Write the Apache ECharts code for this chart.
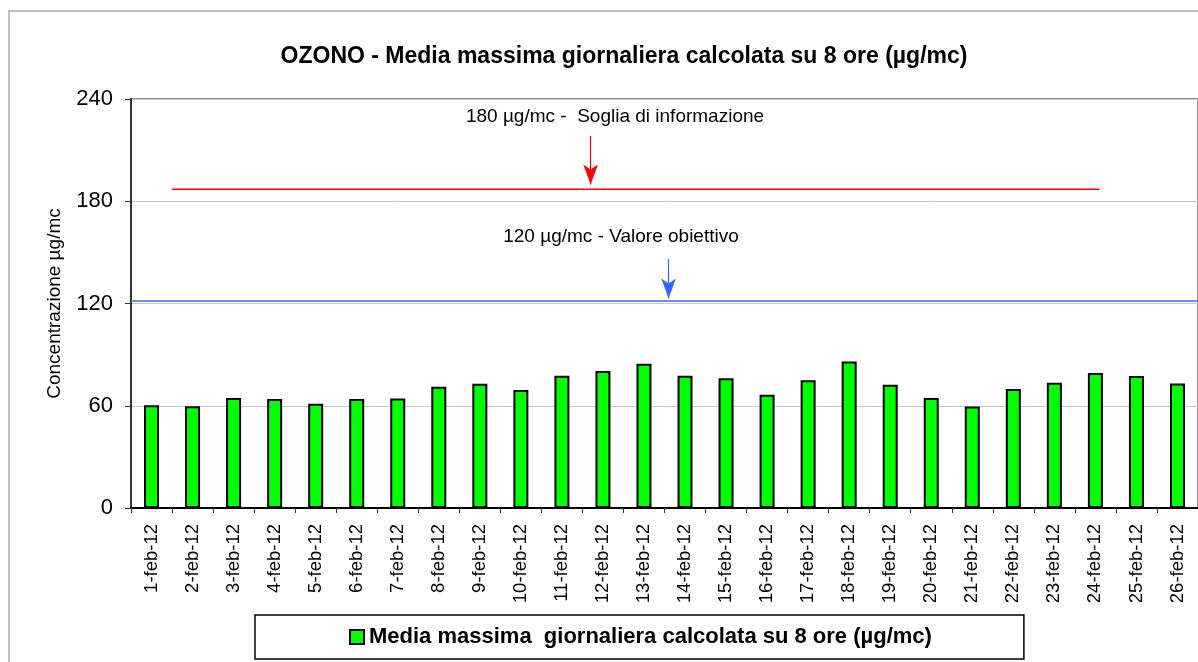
<!DOCTYPE html>
<html>
<head>
<meta charset="utf-8">
<script src="https://cdn.jsdelivr.net/npm/echarts@6/dist/echarts.min.js"></script>
<style>
  html, body { margin: 0; padding: 0; background: #fff; }
  #chart { width: 1198px; height: 662px; }
</style>
</head>
<body>
<div id="chart"></div>
<script>
  // giorni di febbraio 2012
  var days = ['1-feb-12','2-feb-12','3-feb-12','4-feb-12','5-feb-12','6-feb-12','7-feb-12','8-feb-12','9-feb-12',
    '10-feb-12','11-feb-12','12-feb-12','13-feb-12','14-feb-12','15-feb-12','16-feb-12','17-feb-12','18-feb-12',
    '19-feb-12','20-feb-12','21-feb-12','22-feb-12','23-feb-12','24-feb-12','25-feb-12','26-feb-12'];
  // media massima giornaliera su 8 ore (µg/mc)
  var ozono = [60.3, 59.7, 64.6, 64.0, 61.2, 64.0, 64.3, 71.2, 72.9, 69.2, 77.6, 80.4, 84.6,
    77.6, 76.1, 66.5, 74.9, 86.0, 72.3, 64.5, 59.6, 69.8, 73.5, 79.2, 77.4, 73.1];
  var yTicks = [0, 60, 120, 180, 240];
  // linee disegnate a mano sul grafico: [x inizio, x fine, valore] (x in giorni)
  var sogliaInfo = [1, 23.6, 187];
  var valoreObiettivo = [0, 26, 121.5];
  // frecce: [x, valore inizio, valore punta]
  var frecciaInfo = [11.2, 218.3, 189.8];
  var frecciaObiettivo = [13.1, 146.0, 122.9];

  var serieName = 'Media massima  giornaliera calcolata su 8 ore (µg/mc)';
  var font = "'Liberation Sans', Arial, sans-serif";

  var myChart = echarts.init(document.getElementById('chart'));

  function arrowLine(a, color) {
    return {
      type: 'line',
      xAxisIndex: 1,
      data: [],
      silent: true,
      markLine: {
        silent: true,
        symbol: ['none', 'arrow'],
        symbolSize: [11, 20],
        label: { show: false },
        lineStyle: { color: color, width: 1.2, type: 'solid' },
        data: [[{ coord: [a[0], a[1]] }, { coord: [a[0], a[2]] }]]
      }
    };
  }

  myChart.setOption({
    animation: false,
    textStyle: { fontFamily: font },
    grid: {
      left: 131, top: 99, right: -2, bottom: 154,
      show: true, borderColor: '#909090', borderWidth: 2, backgroundColor: '#fff'
    },
    legend: {
      data: [serieName],
      left: 255, top: 615,
      padding: [11, 92, 11, 94],
      borderColor: '#000', borderWidth: 1.5,
      itemWidth: 14, itemHeight: 14, itemGap: 6,
      icon: 'rect',
      textStyle: { fontSize: 22, fontWeight: 'bold', color: '#000', fontFamily: font }
    },
    xAxis: [{
      type: 'category',
      data: days,
      boundaryGap: true,
      axisLine: { lineStyle: { color: '#000', width: 2 } },
      axisTick: { show: true, length: 5, interval: 0, lineStyle: { color: '#333' } },
      axisLabel: { interval: 0, rotate: 90, margin: 16, fontSize: 18.5, color: '#000', fontFamily: font },
      splitLine: { show: false }
    }, {
      type: 'value',
      min: 0, max: 26,
      show: false
    }],
    yAxis: {
      type: 'value',
      min: yTicks[0], max: yTicks[yTicks.length - 1], interval: 60,
      name: 'Concentrazione µg/mc',
      nameLocation: 'middle',
      nameRotate: 90,
      nameGap: 67,
      nameTextStyle: { fontSize: 19, color: '#000', fontFamily: font },
      axisLine: { show: true, lineStyle: { color: '#333', width: 2 } },
      axisTick: { show: true, length: 6, lineStyle: { color: '#333' } },
      axisLabel: { fontSize: 22, margin: 18, color: '#000', fontFamily: font },
      splitLine: { show: true, lineStyle: { color: '#c8c8c8', width: 1 } }
    },
    series: [{
      name: serieName,
      type: 'bar',
      barWidth: 15,
      itemStyle: { color: '#00ff00', borderColor: '#000', borderWidth: 2 },
      data: ozono,
      z: 3
    }, {
      type: 'line',
      xAxisIndex: 1,
      symbol: 'none',
      silent: true,
      lineStyle: { color: '#ff0000', width: 1.5 },
      data: [[sogliaInfo[0], sogliaInfo[2]], [sogliaInfo[1], sogliaInfo[2]]]
    }, {
      type: 'line',
      xAxisIndex: 1,
      symbol: 'none',
      silent: true,
      lineStyle: { color: '#3366ff', width: 1.5 },
      data: [[valoreObiettivo[0], valoreObiettivo[2]], [valoreObiettivo[1], valoreObiettivo[2]]]
    },
      arrowLine(frecciaInfo, '#ff0000'),
      arrowLine(frecciaObiettivo, '#3366ff')
    ],
    graphic: [{
      type: 'rect',
      shape: { x: 9, y: 11, width: 1300, height: 700 },
      style: { fill: 'none', stroke: '#bfbfbf', lineWidth: 2 },
      silent: true
    }, {
      type: 'text',
      x: 624, y: 57,
      style: {
        text: 'OZONO - Media massima giornaliera calcolata su 8 ore (µg/mc)',
        font: 'bold 23px ' + font, fill: '#000',
        textAlign: 'center', textVerticalAlign: 'middle'
      }
    }, {
      type: 'text',
      x: 615, y: 117,
      style: {
        text: '180 µg/mc -  Soglia di informazione',
        font: '19px ' + font, fill: '#000',
        textAlign: 'center', textVerticalAlign: 'middle'
      }
    }, {
      type: 'text',
      x: 621, y: 237,
      style: {
        text: '120 µg/mc - Valore obiettivo',
        font: '19px ' + font, fill: '#000',
        textAlign: 'center', textVerticalAlign: 'middle'
      }
    }]
  });
</script>
</body>
</html>
